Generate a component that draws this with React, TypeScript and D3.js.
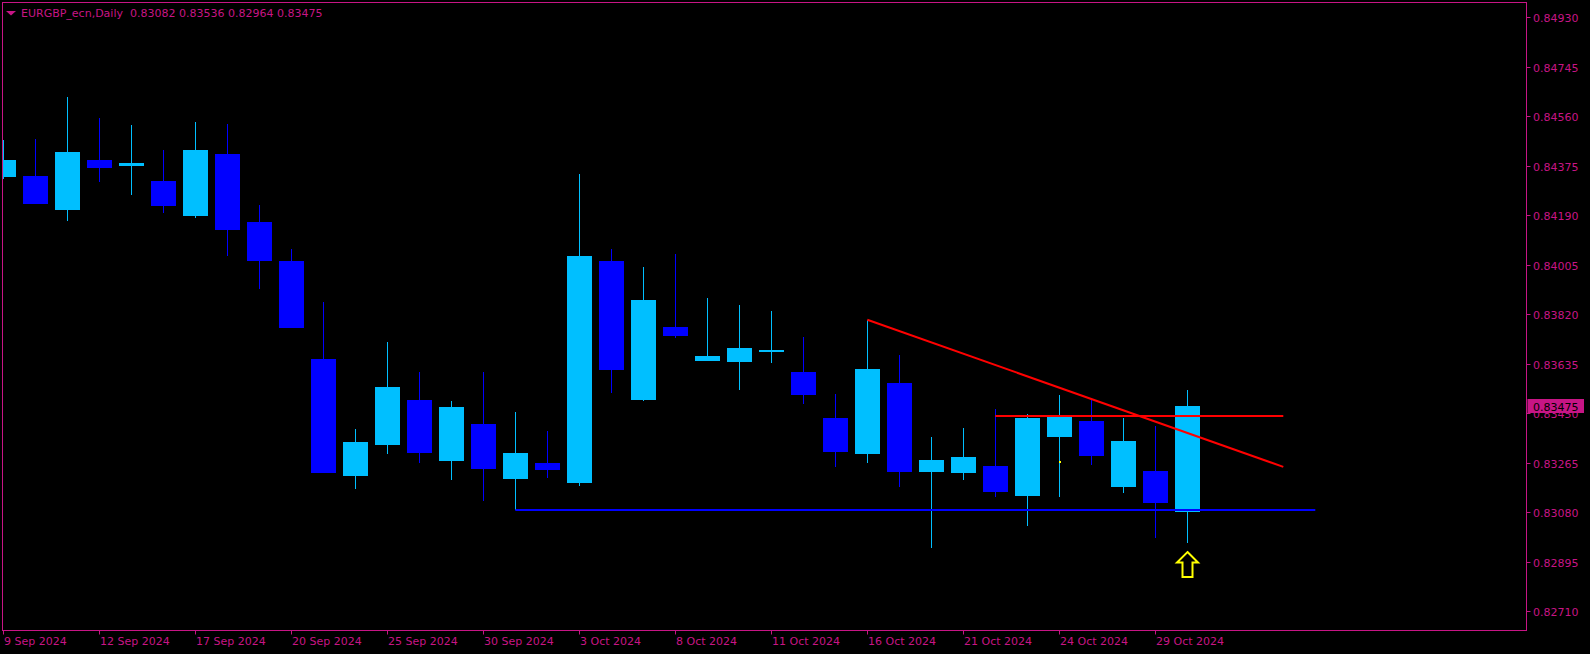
import React, { useEffect } from "react";
import * as d3 from "d3";

const dates = [
  "9 Sep 2024", "10 Sep 2024", "11 Sep 2024", "12 Sep 2024", "13 Sep 2024",
  "16 Sep 2024", "17 Sep 2024", "18 Sep 2024", "19 Sep 2024", "20 Sep 2024",
  "23 Sep 2024", "24 Sep 2024", "25 Sep 2024", "26 Sep 2024", "27 Sep 2024",
  "30 Sep 2024", "1 Oct 2024", "2 Oct 2024", "3 Oct 2024", "4 Oct 2024",
  "7 Oct 2024", "8 Oct 2024", "9 Oct 2024", "10 Oct 2024", "11 Oct 2024",
  "14 Oct 2024", "15 Oct 2024", "16 Oct 2024", "17 Oct 2024", "18 Oct 2024",
  "21 Oct 2024", "22 Oct 2024", "23 Oct 2024", "24 Oct 2024", "25 Oct 2024",
  "28 Oct 2024", "29 Oct 2024", "30 Oct 2024",
];
const opens = [
  0.84333, 0.84337, 0.84210, 0.84396, 0.84375, 0.84318, 0.84188, 0.84419, 0.84165, 0.84019,
  0.83652, 0.83215, 0.83331, 0.83499, 0.83271, 0.83409, 0.83204, 0.83264, 0.83189, 0.84019,
  0.83499, 0.83772, 0.83645, 0.83641, 0.83682, 0.83604, 0.83432, 0.83297, 0.83563, 0.83230,
  0.83226, 0.83252, 0.83140, 0.83361, 0.83421, 0.83174, 0.83234, 0.83082,
];
const highs = [
  0.84471, 0.84475, 0.84632, 0.84554, 0.84527, 0.84434, 0.84539, 0.84531, 0.84228, 0.84064,
  0.83866, 0.83391, 0.83716, 0.83604, 0.83495, 0.83604, 0.83454, 0.83383, 0.84344, 0.84064,
  0.83996, 0.84045, 0.83880, 0.83854, 0.83832, 0.83735, 0.83522, 0.83799, 0.83667, 0.83361,
  0.83394, 0.83465, 0.83447, 0.83518, 0.83503, 0.83432, 0.83402, 0.83536,
];
const lows = [
  0.84325, 0.84232, 0.84170, 0.84315, 0.84267, 0.84199, 0.84181, 0.84039, 0.83914, 0.83767,
  0.83226, 0.83166, 0.83298, 0.83265, 0.83200, 0.83123, 0.83088, 0.83207, 0.83178, 0.83525,
  0.83497, 0.83731, 0.83644, 0.83537, 0.83637, 0.83484, 0.83249, 0.83264, 0.83174, 0.82946,
  0.83200, 0.83136, 0.83028, 0.83136, 0.83256, 0.83151, 0.82983, 0.82964,
];
const closes = [
  0.84396, 0.84233, 0.84426, 0.84368, 0.84385, 0.84226, 0.84434, 0.84136, 0.84019, 0.83769,
  0.83227, 0.83342, 0.83548, 0.83301, 0.83473, 0.83241, 0.83301, 0.83237, 0.84038, 0.83611,
  0.83873, 0.83738, 0.83664, 0.83694, 0.83686, 0.83518, 0.83305, 0.83615, 0.83230, 0.83275,
  0.83286, 0.83155, 0.83432, 0.83437, 0.83290, 0.83346, 0.83114, 0.83475,
];

const priceTicks = [
  "0.84930", "0.84745", "0.84560", "0.84375", "0.84190", "0.84005", "0.83820",
  "0.83635", "0.83450", "0.83265", "0.83080", "0.82895", "0.82710",
];
const dateTicks = [0, 3, 6, 9, 12, 15, 18, 21, 24, 27, 30, 33, 36];

// drawn objects (bar index, price)
const supportLine = [[16, 0.83088], [41, 0.83088]];
const resistanceLine = [[31, 0.83439], [40, 0.83439]];
const trendLine = [[27, 0.83799], [40, 0.83249]];
const arrowBar = 37;
const markerPoint = [33, 0.8327];

const title = "EURGBP_ecn,Daily  0.83082 0.83536 0.82964 0.83475";
const lastPrice = "0.83475";

const W = 1590;
const H = 654;
const AXIS = "#C71585";
const BULL = "#00BFFF";
const BEAR = "#0000FF";
const FONT = "DejaVu Sans, Tahoma, sans-serif";

export default function App() {
  useEffect(() => {
    document.body.style.margin = "0";
    document.body.style.background = "#000";
  }, []);

  const x = d3.scaleLinear().domain([0, 37]).range([3.3, 3.3 + 32 * 37]);
  const y = d3.scaleLinear().domain([0.8271, 0.8493]).range([611, 17.3]);

  const plotL = 2.5, plotR = 1526.5, plotT = 2.5, plotB = 630.5;

  const line = d3
    .line<number[]>()
    .x((d) => x(d[0]))
    .y((d) => y(d[1]));

  const ax = Math.round(x(arrowBar)) + 0.5;
  const aTop = y(lows[arrowBar]) + 9;
  const arrowPts = [
    [ax, aTop],
    [ax + 10.5, aTop + 10.5],
    [ax + 5, aTop + 10.5],
    [ax + 5, aTop + 25],
    [ax - 5, aTop + 25],
    [ax - 5, aTop + 10.5],
    [ax - 10.5, aTop + 10.5],
  ];

  const lastY = y(+lastPrice);

  return (
    <svg width={W} height={H} style={{ display: "block", background: "#000" }}>
      <rect x={0} y={0} width={W} height={H} fill="#000" />
      <defs>
        <clipPath id="plot">
          <rect x={plotL} y={plotT} width={plotR - plotL} height={plotB - plotT} />
        </clipPath>
      </defs>

      <g clipPath="url(#plot)">
        {dates.map((d, i) => {
          const cx = Math.round(x(i));
          const bull = closes[i] >= opens[i];
          const col = bull ? BULL : BEAR;
          const top = Math.round(y(Math.max(opens[i], closes[i])));
          const bot = Math.round(y(Math.min(opens[i], closes[i])));
          return (
            <g key={d}>
              <line
                x1={cx + 0.5}
                x2={cx + 0.5}
                y1={Math.round(y(highs[i]))}
                y2={Math.round(y(lows[i]))}
                stroke={col}
                strokeWidth={1}
              />
              <rect x={cx - 12} y={top} width={25} height={Math.max(bot - top, 2)} fill={col} />
            </g>
          );
        })}

        <path d={line(supportLine) || ""} stroke="#0000FF" strokeWidth={2} fill="none" />
        <path d={line(resistanceLine) || ""} stroke="#FF0000" strokeWidth={2} fill="none" />
        <path d={line(trendLine) || ""} stroke="#FF0000" strokeWidth={2} fill="none" />

        <rect
          x={Math.round(x(markerPoint[0]))}
          y={Math.round(y(markerPoint[1]))}
          width={2}
          height={2}
          fill="#FFFF00"
        />

        <polygon
          points={arrowPts.map((p) => p.join(",")).join(" ")}
          fill="#000"
          stroke="#FFFF00"
          strokeWidth={2}
          strokeLinejoin="miter"
        />
      </g>

      <rect
        x={plotL}
        y={plotT}
        width={plotR - plotL}
        height={plotB - plotT}
        fill="none"
        stroke={AXIS}
        strokeWidth={1}
      />

      {/* title */}
      <polygon points="6,11 16,11 11,15.5" fill={AXIS} />
      <text x={21} y={17} fill={AXIS} fontFamily={FONT} fontSize={11} style={{ whiteSpace: "pre" }}>
        {title}
      </text>

      {/* price axis */}
      {priceTicks.map((t) => {
        const ty = Math.round(y(+t)) + 0.5;
        return (
          <g key={t}>
            <line x1={plotR} x2={plotR + 4} y1={ty} y2={ty} stroke={AXIS} />
            <text x={1533} y={ty + 4} fill={AXIS} fontFamily={FONT} fontSize={11}>
              {t}
            </text>
          </g>
        );
      })}

      <rect x={1527.5} y={Math.round(lastY) - 7} width={56.5} height={14} fill={AXIS} />
      <text x={1533} y={Math.round(lastY) + 4.5} fill="#000" fontFamily={FONT} fontSize={11}>
        {lastPrice}
      </text>

      {/* date axis */}
      {dateTicks.map((i) => {
        const tx = Math.round(x(i)) + 0.5;
        return (
          <g key={i}>
            <line x1={tx} x2={tx} y1={plotB} y2={plotB + 4} stroke={AXIS} />
            <text x={tx + 0.5} y={645} fill={AXIS} fontFamily={FONT} fontSize={11}>
              {dates[i]}
            </text>
          </g>
        );
      })}
    </svg>
  );
}
